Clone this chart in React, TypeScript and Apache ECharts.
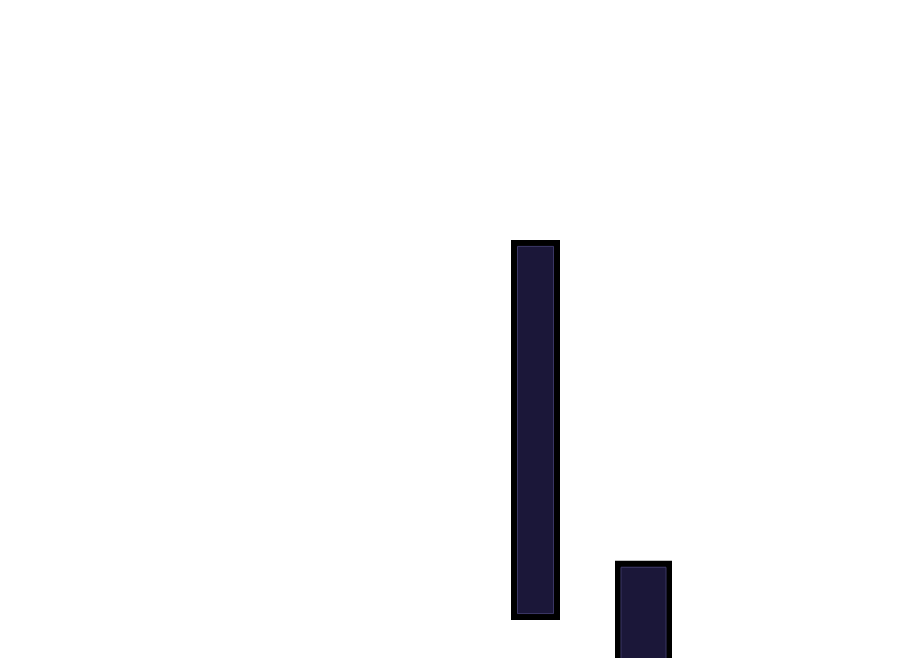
import React, { useEffect, useRef } from 'react';
import * as echarts from 'echarts';

// categories along the (hidden) x axis, only two carry bars
const categories = ['c1', 'c2', 'c3', 'c4', 'c5', 'c6', 'c7'];
// floating bar: invisible offset + visible height
const firstOffset = [null, null, null, null, 17.5, null, null];
const firstValues = [null, null, null, null, 75.1, null, null];
const secondValues = [null, null, null, null, null, 29.2, null];

const Y_MIN = 10;
const Y_MAX = 140;
const FILL = '#1b1739';
const EDGE = '#000000';
const INNER_LINE = '#3b3764';
const EDGE_WIDTH = 6;

const App: React.FC = () => {
  const chartRef = useRef<HTMLDivElement>(null);

  useEffect(() => {
    if (!chartRef.current) return;
    const chart = echarts.init(chartRef.current, null, { renderer: 'svg' });

    // thin lighter line sits just inside the black edge
    const inset = EDGE_WIDTH / (chartRef.current.clientHeight / (Y_MAX - Y_MIN));

    const hiddenX = (i: number) => ({
      type: 'category',
      data: categories,
      show: false,
      gridIndex: 0,
      id: 'x' + i,
    });

    const innerOffset = firstOffset.map(v => (v == null ? null : v + inset));
    const innerFirst = firstValues.map(v => (v == null ? null : v - 2 * inset));
    const innerSecond = secondValues.map(v => (v == null ? null : v - inset));

    const option = {
      animation: false,
      grid: { left: 49.5, right: 94.5, top: 0, bottom: 0, show: false },
      xAxis: [hiddenX(0), hiddenX(1), hiddenX(2), hiddenX(3)],
      yAxis: { type: 'value', min: Y_MIN, max: Y_MAX, show: false },
      series: [
        {
          type: 'bar', xAxisIndex: 0, stack: 'a', data: firstOffset, clip: false,
          barWidth: 49, itemStyle: { color: 'transparent' }, silent: true,
        },
        {
          type: 'bar', xAxisIndex: 0, stack: 'a', data: firstValues, clip: false,
          barWidth: 49, itemStyle: { color: FILL, borderColor: EDGE, borderWidth: EDGE_WIDTH },
        },
        {
          type: 'bar', xAxisIndex: 1, data: secondValues, clip: false,
          barWidth: 57, itemStyle: { color: FILL, borderColor: EDGE, borderWidth: EDGE_WIDTH },
        },
        {
          type: 'bar', xAxisIndex: 2, stack: 'b', data: innerOffset, clip: false,
          barWidth: 37, itemStyle: { color: 'transparent' }, silent: true,
        },
        {
          type: 'bar', xAxisIndex: 2, stack: 'b', data: innerFirst, clip: false,
          barWidth: 37, itemStyle: { color: 'transparent', borderColor: INNER_LINE, borderWidth: 1 },
        },
        {
          type: 'bar', xAxisIndex: 3, data: innerSecond, clip: false,
          barWidth: 46, itemStyle: { color: 'transparent', borderColor: INNER_LINE, borderWidth: 1 },
        },
      ],
    };

    chart.setOption(option);
    return () => {
      chart.dispose();
    };
  }, []);

  return (
    <div
      ref={chartRef}
      style={{ position: 'fixed', left: 0, top: 0, width: 900, height: 658, background: '#ffffff' }}
    />
  );
};

export default App;
